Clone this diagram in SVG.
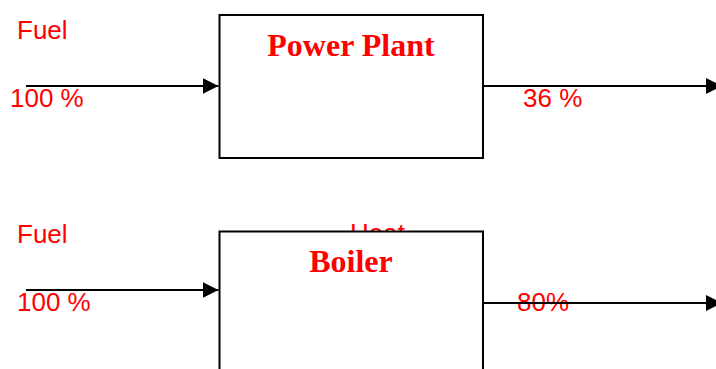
<svg xmlns="http://www.w3.org/2000/svg" width="716" height="369" viewBox="0 0 716 369">
<style>
.lbl{font-family:"Liberation Sans",Arial,sans-serif;font-size:26px;fill:#ff0000}
.ttl{font-family:"Liberation Serif","Times New Roman",serif;font-size:32px;font-weight:bold;fill:#ff0000;text-anchor:middle}
.box{fill:#ffffff;stroke:#000000;stroke-width:2}
.ln{stroke:#000000;stroke-width:2;fill:none}
</style>
<defs>
<marker id="ah" markerUnits="userSpaceOnUse" markerWidth="16" markerHeight="16" viewBox="0 0 15 15" refX="15" refY="7.5" orient="auto">
<path d="M0,0 L15,7.5 L0,15 Z" fill="#000000"/>
</marker>
</defs>
<g id="labels">
<text class="lbl" x="17" y="39">Fuel</text>
<text class="lbl" x="10" y="107">100 %</text>
<text class="lbl" x="523" y="107">36 %</text>
<text class="lbl" x="17" y="243">Fuel</text>
<text class="lbl" x="350" y="242">Heat</text>
<text class="lbl" x="17" y="311">100 %</text>
<text class="lbl" x="517" y="311">80%</text>
</g>
<g id="power-plant">
<rect class="box" x="219.5" y="15" width="263.5" height="143"/>
<text class="ttl" x="351" y="56">Power Plant</text>
</g>
<g id="boiler">
<rect class="box" x="219.5" y="231.5" width="263.5" height="150"/>
<text class="ttl" x="351" y="272">Boiler</text>
</g>
<g id="connectors">
<line class="ln" x1="26" y1="86" x2="218.5" y2="86" marker-end="url(#ah)"/>
<line class="ln" x1="483" y1="86" x2="722" y2="86" marker-end="url(#ah)"/>
<line class="ln" x1="26" y1="290" x2="218.5" y2="290" marker-end="url(#ah)"/>
<line class="ln" x1="483" y1="303" x2="722" y2="303" marker-end="url(#ah)"/>
</g>
</svg>
